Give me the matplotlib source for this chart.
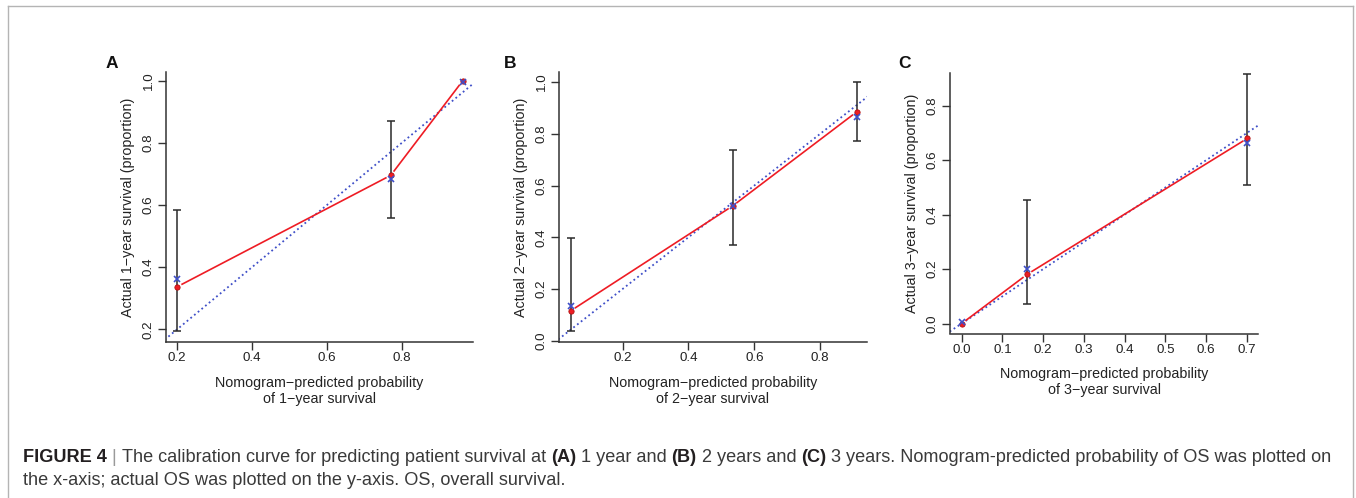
import numpy as np
import matplotlib
matplotlib.use("Agg")
import matplotlib.pyplot as plt
from matplotlib.ticker import FormatStrFormatter
from matplotlib.lines import Line2D

plt.rcParams['font.family'] = ['Liberation Sans', 'DejaVu Sans']

# ---------------- data ----------------
panel_letters = ["A", "B", "C"]
years = ["1", "2", "3"]

pred_A = [0.200, 0.771, 0.963]
obs_A = [0.337, 0.696, 1.000]
corr_A = [0.361, 0.683, 0.996]
lo_A = [0.196, 0.558, 1.000]
hi_A = [0.584, 0.872, 1.000]

pred_B = [0.043, 0.534, 0.911]
obs_B = [0.116, 0.521, 0.885]
corr_B = [0.133, 0.519, 0.866]
lo_B = [0.036, 0.371, 0.772]
hi_B = [0.397, 0.736, 1.000]

pred_C = [0.000, 0.161, 0.701]
obs_C = [0.000, 0.181, 0.680]
corr_C = [0.005, 0.199, 0.663]
lo_C = [0.000, 0.071, 0.507]
hi_C = [0.000, 0.452, 0.915]

xticks_A = [0.2, 0.4, 0.6, 0.8]
yticks_A = [0.2, 0.4, 0.6, 0.8, 1.0]
xticks_B = [0.2, 0.4, 0.6, 0.8]
yticks_B = [0.0, 0.2, 0.4, 0.6, 0.8, 1.0]
xticks_C = [0.0, 0.1, 0.2, 0.3, 0.4, 0.5, 0.6, 0.7]
yticks_C = [0.0, 0.2, 0.4, 0.6, 0.8]

caption_line1 = [
    ("FIGURE 4", "bold", "#231f20"),
    (" | ", "light", "#9a9a9a"),
    ("The calibration curve for predicting patient survival at ", "normal", "#3a3a3a"),
    ("(A)", "bold", "#231f20"),
    (" 1 year and ", "normal", "#3a3a3a"),
    ("(B)", "bold", "#231f20"),
    (" 2 years and ", "normal", "#3a3a3a"),
    ("(C)", "bold", "#231f20"),
    (" 3 years. Nomogram-predicted probability of OS was plotted on", "normal", "#3a3a3a"),
]
caption_line2 = "the x-axis; actual OS was plotted on the y-axis. OS, overall survival."

# ---------------- figure ----------------
W, H = 1356, 498
fig = plt.figure(figsize=(W / 100, H / 100), dpi=100)
fig.patch.set_facecolor("white")

def px_rect(left, top, right, bottom):
    return [left / W, 1 - bottom / H, (right - left) / W, (bottom - top) / H]

panels = [
    dict(rect=px_rect(166, 72, 473, 342), xlim=(0.170, 0.991), ylim=(0.159, 1.029),
         pred=pred_A, obs=obs_A, corr=corr_A, lo=lo_A, hi=hi_A,
         xt=xticks_A, yt=yticks_A, letter_xy=(112, 63)),
    dict(rect=px_rect(559, 72.5, 867, 342), xlim=(0.007, 0.942), ylim=(-0.005, 1.037),
         pred=pred_B, obs=obs_B, corr=corr_B, lo=lo_B, hi=hi_B,
         xt=xticks_B, yt=yticks_B, letter_xy=(510, 63)),
    dict(rect=px_rect(950, 73, 1258, 333.5), xlim=(-0.0287, 0.727), ylim=(-0.0366, 0.92),
         pred=pred_C, obs=obs_C, corr=corr_C, lo=lo_C, hi=hi_C,
         xt=xticks_C, yt=yticks_C, letter_xy=(905, 63)),
]

AXC = "#333333"
RED = "#ee1c24"
BLUE = "#3f4fc8"

def gapped_line(ax, xs, ys, gap_px, **kw):
    pts = ax.transData.transform(np.column_stack([xs, ys]))
    inv = ax.transData.inverted()
    for p0, p1 in zip(pts[:-1], pts[1:]):
        d = p1 - p0
        L = np.hypot(*d)
        if L <= 2 * gap_px:
            continue
        u = d / L
        a = inv.transform(p0 + u * gap_px)
        b = inv.transform(p1 - u * gap_px)
        ax.plot([a[0], b[0]], [a[1], b[1]], **kw)

for i, p in enumerate(panels):
    ax = fig.add_axes(p["rect"])
    ax.set_xlim(*p["xlim"])
    ax.set_ylim(*p["ylim"])
    for s in ["top", "right"]:
        ax.spines[s].set_visible(False)
    for s in ["left", "bottom"]:
        ax.spines[s].set_color(AXC)
        ax.spines[s].set_linewidth(1.1)
    ax.set_xticks(p["xt"])
    ax.set_yticks(p["yt"])
    ax.xaxis.set_major_formatter(FormatStrFormatter("%.1f"))
    ax.yaxis.set_major_formatter(FormatStrFormatter("%.1f"))
    ax.tick_params(axis="both", direction="out", length=6, width=1.0, color=AXC,
                   labelsize=9.6, labelcolor="#222222")
    ax.tick_params(axis="x", pad=1.5)
    ax.tick_params(axis="y", pad=2.0, labelrotation=90)
    for lab in ax.get_yticklabels():
        lab.set_va("center")

    # ideal line
    lo_lim = min(p["xlim"][0], p["ylim"][0]) - 1
    hi_lim = max(p["xlim"][1], p["ylim"][1]) + 1
    ax.plot([lo_lim, hi_lim], [lo_lim, hi_lim], linestyle=":", color=BLUE,
            linewidth=1.3, zorder=2)

    # error bars
    pred = np.array(p["pred"])
    lo = np.array(p["lo"])
    hi = np.array(p["hi"])
    m = hi > lo
    ax.errorbar(pred[m], (lo[m] + hi[m]) / 2, yerr=(hi[m] - lo[m]) / 2, fmt="none",
                ecolor="#2a2a2a", elinewidth=1.1, capsize=2.6, capthick=1.1, zorder=3)

    # observed line + points
    gapped_line(ax, p["pred"], p["obs"], 5.5, color=RED, linewidth=1.2, zorder=4)
    ax.plot(p["pred"], p["obs"], linestyle="none", marker="o", markersize=3.8,
            markerfacecolor=RED, markeredgecolor="#b01010", markeredgewidth=0.6, zorder=5)
    # bias-corrected points
    ax.plot(p["pred"], p["corr"], linestyle="none", marker="x", markersize=4.6,
            markeredgewidth=1.2, color=BLUE, zorder=6)

    ax.set_xlabel("Nomogram\u2212predicted probability\nof %s\u2212year survival" % years[i],
                  fontsize=10.3, color="#222222", labelpad=8, linespacing=1.2)
    ax.set_ylabel("Actual %s\u2212year survival (proportion)" % years[i],
                  fontsize=10.3, color="#222222", labelpad=6)

    lx, ly = p["letter_xy"]
    fig.text(lx / W, 1 - ly / H, panel_letters[i], fontsize=12.5, fontweight="bold",
             ha="center", va="center", color="#111111")

# ---------------- frame ----------------
FR = "#b4b4b4"
fig.add_artist(Line2D([8 / W, 8 / W], [0, 1 - 6 / H], color=FR, lw=1.0))
fig.add_artist(Line2D([8 / W, 1353 / W], [1 - 6 / H, 1 - 6 / H], color=FR, lw=1.0))
fig.add_artist(Line2D([1353 / W, 1353 / W], [0, 1 - 6 / H], color=FR, lw=1.0))

# ---------------- caption ----------------
renderer = fig.canvas.get_renderer()
x0, x_end = 23, 1336

def place_line1(fs, draw):
    x = x0
    arts = []
    for txt, wt, col in caption_line1:
        t = fig.text(x / W, 1 - 457 / H, txt, fontsize=fs, fontweight=wt, color=col,
                     ha="left", va="center")
        x += t.get_window_extent(renderer=renderer).width
        arts.append(t)
    if not draw:
        for t in arts:
            t.remove()
    return x - x0

base = 10.0
wbase = place_line1(base, False)
CAP_FS = base * (x_end - x0) / wbase
place_line1(CAP_FS, True)
fig.text(x0 / W, 1 - 480 / H, caption_line2, fontsize=CAP_FS, color="#3a3a3a",
         ha="left", va="center")

fig.savefig("out.png", dpi=100, facecolor="white")
